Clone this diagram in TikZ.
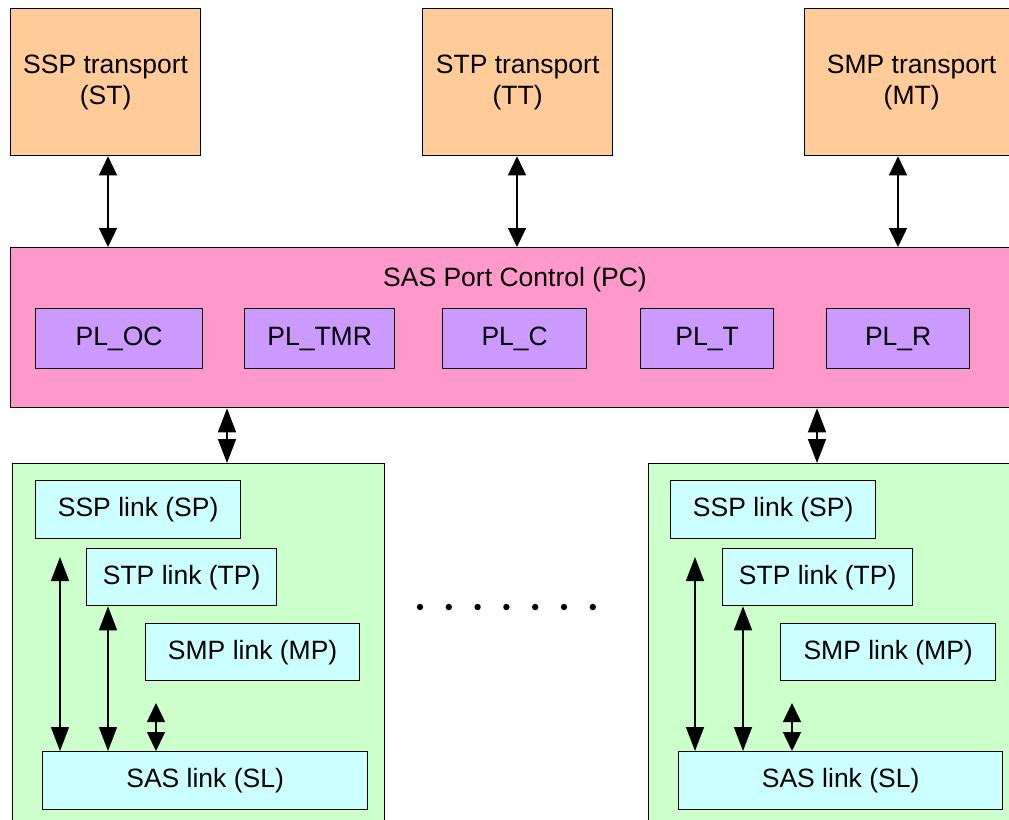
\documentclass[tikz,border=0pt]{standalone}
\usepackage{fontspec}
\setmainfont{Liberation Sans}
\usetikzlibrary{arrows.meta,calc}
\definecolor{transfill}{HTML}{FFCC99}
\definecolor{portfill}{HTML}{FF99CC}
\definecolor{plfill}{HTML}{CC99FF}
\definecolor{phyfill}{HTML}{CCFFCC}
\definecolor{linkfill}{HTML}{CCFFFF}
\begin{document}
\begin{tikzpicture}[x=1pt,y=-1pt,
  font=\fontsize{26.5}{31}\selectfont,
  box/.style={draw, line width=1.3pt, anchor=north west, inner sep=0pt, align=center},
  trans/.style={box, fill=transfill, minimum width=190pt, minimum height=147pt},
  plbox/.style={box, fill=plfill, minimum height=60pt},
  phy/.style={box, fill=phyfill, minimum width=372pt, minimum height=380pt},
  linkbox/.style={box, fill=linkfill, minimum height=58pt},
  dbl/.style={line width=1.5pt, {Triangle[length=19pt,width=18pt]}-{Triangle[length=19pt,width=18pt]}},
  dbls/.style={line width=1.5pt, {Triangle[length=24pt,width=18pt]}-{Triangle[length=24pt,width=18pt]}}]
\clip (0,0) rectangle (1009,819);
\fill[white] (0,0) rectangle (1009,819);

% transport layer
\node[trans] (st) at (10,8)  {SSP transport\\(ST)};
\node[trans] (tt) at (422,8) {STP transport\\(TT)};
\node[trans, minimum width=214pt] (mt) at (804,8) {SMP transport\\(MT)};

% port control
\node[box, fill=portfill, minimum width=1012pt, minimum height=160pt] (pc) at (10,247) {};
\node (pctitle) at (515,280) {SAS Port Control (PC)};
\node[plbox, minimum width=167pt] (ploc)  at (35,308)  {PL\_OC};
\node[plbox, minimum width=150pt] (pltmr) at (244,308) {PL\_TMR};
\node[plbox, minimum width=144pt] (plc)   at (442,308) {PL\_C};
\node[plbox, minimum width=133pt] (plt)   at (640,308) {PL\_T};
\node[plbox, minimum width=143pt] (plr)   at (826,308) {PL\_R};

% transport <-> port control
\coordinate (xa) at (108,0);
\coordinate (xb) at (517,0);
\coordinate (xc) at (898,0);
\draw[dbl] (st.south -| xa) -- (pc.north -| xa);
\draw[dbl] (tt.south -| xb) -- (pc.north -| xb);
\draw[dbl] (mt.south -| xc) -- (pc.north -| xc);

% left phy
\node[phy] (phyl) at (12,463) {};
\node[linkbox, minimum width=205pt] (spl) at (35,480)  {SSP link (SP)};
\node[linkbox, minimum width=190pt, minimum height=57pt] (tpl) at (86,548) {STP link (TP)};
\node[linkbox, minimum width=214pt, minimum height=57pt] (mpl) at (145,623) {SMP link (MP)};
\node[linkbox, minimum width=325pt] (sll) at (42,751) {SAS link (SL)};

% right phy
\node[phy, minimum width=380pt] (phyr) at (648,463) {};
\node[linkbox, minimum width=205pt] (spr) at (670,480)  {SSP link (SP)};
\node[linkbox, minimum width=190pt, minimum height=57pt] (tpr) at (722,548) {STP link (TP)};
\node[linkbox, minimum width=215pt, minimum height=57pt] (mpr) at (780,623) {SMP link (MP)};
\node[linkbox, minimum width=324pt] (slr) at (678,751) {SAS link (SL)};

% port control <-> phys
\coordinate (xl) at (227,0);
\coordinate (xr) at (817,0);
\draw[dbls] (pc.south -| xl) -- (phyl.north -| xl);
\draw[dbls] (pc.south -| xr) -- (phyr.north -| xr);

% link layer arrows, left
\coordinate (l1) at (60,557);
\coordinate (l3) at (156,703);
\coordinate (l2) at (108,0);
\draw[dbls] (l1) -- (sll.north -| l1);
\draw[dbls] (tpl.south -| l2) -- (sll.north -| l2);
\draw[dbl]  (l3) -- (sll.north -| l3);

% link layer arrows, right
\coordinate (r1) at (695,557);
\coordinate (r3) at (792,703);
\coordinate (r2) at (743,0);
\draw[dbls] (r1) -- (slr.north -| r1);
\draw[dbls] (tpr.south -| r2) -- (slr.north -| r2);
\draw[dbl]  (r3) -- (slr.north -| r3);

% ellipsis between phys
\foreach \i in {0,...,6}
  \fill ({420+\i*28.8},607) circle (3.2pt);
\end{tikzpicture}
\end{document}
